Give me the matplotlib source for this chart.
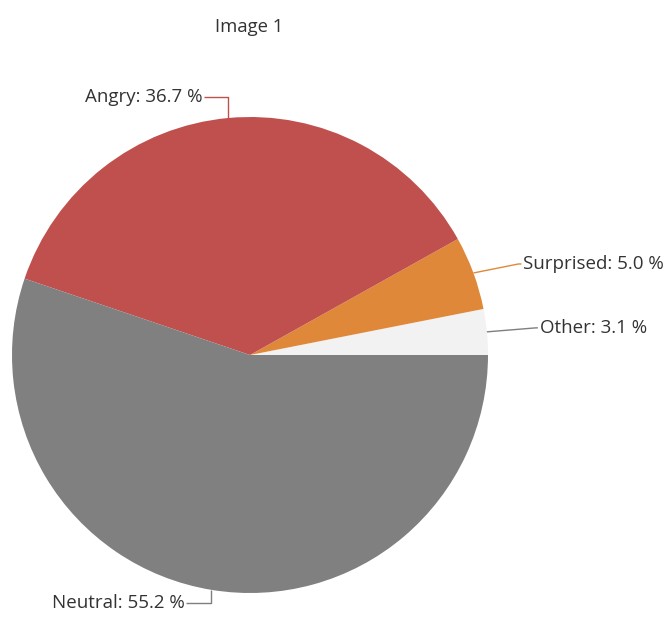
import numpy as np
import matplotlib.pyplot as plt

# Data
labels = ['Other', 'Surprised', 'Angry', 'Neutral']
shares = [3.1, 5.0, 36.7, 55.2]
colors = ['#F2F2F2', '#E0883A', '#C0504D', '#808080']
line_colors = ['#7F7F7F', '#E0883A', '#C0504D', '#7F7F7F']

W, H = 670, 630
cx, cy, r = 250, H - 355, 238

fig = plt.figure(figsize=(W / 100, H / 100), dpi=100)
ax = fig.add_axes([0, 0, 1, 1])

wedges, _ = ax.pie(shares, colors=colors, startangle=0, counterclock=True,
                   radius=r, center=(cx, cy), frame=True,
                   wedgeprops=dict(linewidth=0))
ax.set_xlim(0, W)
ax.set_ylim(0, H)
ax.set_aspect('equal')
ax.axis('off')

# leader line shapes: (bend offset dx, dy) relative to edge point, then horizontal run
bends = {
    'Angry': ((0, 21), -24),
    'Surprised': ((45, 9), 3),
    'Other': ((49, 4), 2),
    'Neutral': ((0, -13), -25),
}

for w, name, pct, lc in zip(wedges, labels, shares, line_colors):
    ang = np.deg2rad((w.theta1 + w.theta2) / 2)
    x0 = cx + r * np.cos(ang)
    y0 = cy + r * np.sin(ang)
    (dx, dy), run = bends[name]
    x1, y1 = x0 + dx, y0 + dy
    x2 = x1 + run
    ax.plot([x0, x1, x2], [y0, y1, y1], color=lc, lw=1, solid_capstyle='butt')
    ha = 'right' if run < 0 else 'left'
    ax.text(x2 + (-2 if run < 0 else 2), y1, f'{name}: {pct:.1f} %',
            ha=ha, va='center', fontsize=13.5, color='#333333', family='Open Sans')

ax.text(249, H - 27, 'Image 1', ha='center', va='center', fontsize=13.3,
        color='#333333', family='Open Sans')

fig.savefig('out.png', dpi=100, facecolor='white')
